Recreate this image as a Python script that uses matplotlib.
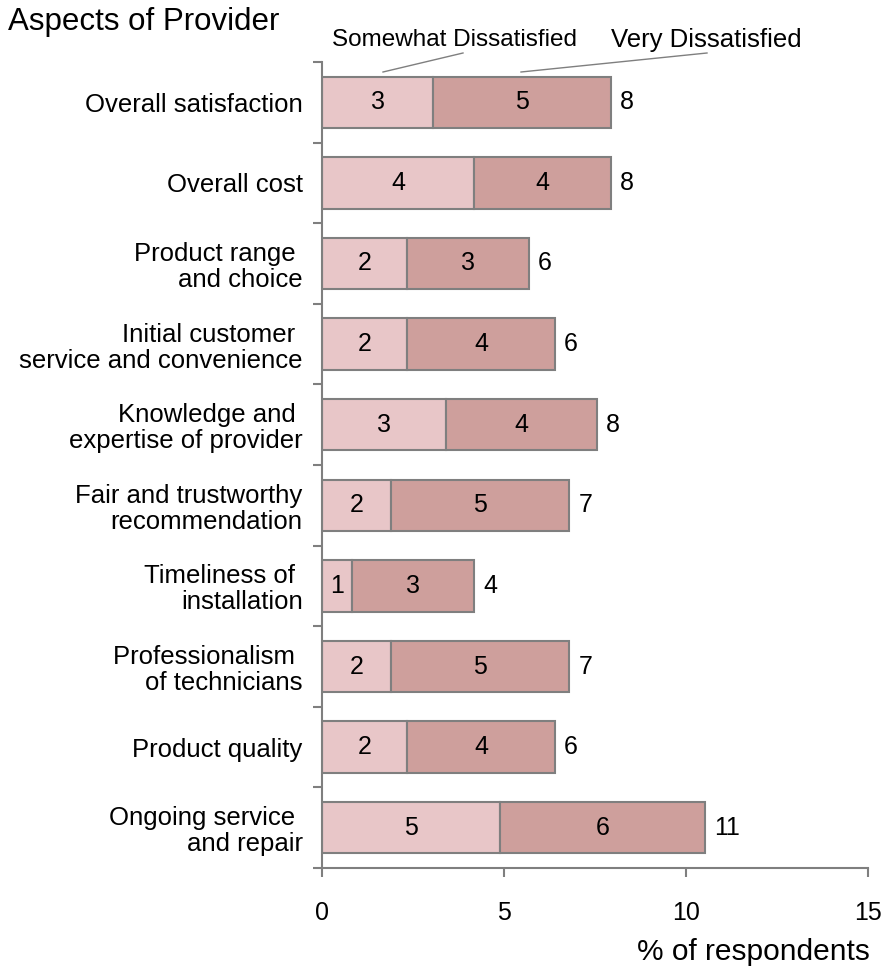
import numpy as np
import matplotlib.pyplot as plt

plt.rcParams['font.family'] = ['Liberation Sans', 'DejaVu Sans']

# categories top to bottom
aspects = ["Overall satisfaction", "Overall cost", "Product range \nand choice",
           "Initial customer \nservice and convenience", "Knowledge and \nexpertise of provider",
           "Fair and trustworthy\nrecommendation", "Timeliness of \ninstallation",
           "Professionalism \nof technicians", "Product quality", "Ongoing service \nand repair"]
somewhat = [3.05, 4.18, 2.34, 2.34, 3.41, 1.90, 0.82, 1.90, 2.34, 4.89]
very = [4.89, 3.76, 3.35, 4.06, 4.14, 4.89, 3.35, 4.89, 4.06, 5.63]

col_light = '#e8c6c8'
col_dark = '#ce9f9c'
edge = '#7f7f7f'

fig = plt.figure(figsize=(8.81, 9.77), dpi=100)
ax = fig.add_axes([322/881, 1-868/977, 546/881, 806/977])

y = np.arange(len(aspects))
s = np.array(somewhat)
v = np.array(very)
tot = s + v
h = 0.64
ax.barh(y, s, height=h, color=col_light, edgecolor=edge, linewidth=1.5)
ax.barh(y, v, left=s, height=h, color=col_dark, edgecolor=edge, linewidth=1.5)

fs = 18
for i in range(len(y)):
    ax.text(s[i]/2, y[i], '%.0f' % s[i], ha='center', va='center', fontsize=fs)
    ax.text(s[i] + v[i]/2, y[i], '%.0f' % v[i], ha='center', va='center', fontsize=fs)
    ax.text(tot[i] + 0.25, y[i], '%.0f' % tot[i], ha='left', va='center', fontsize=fs)

ax.set_xlim(0, 15)
ax.set_ylim(len(aspects) - 0.5, -0.5)
ax.set_xticks([0, 5, 10, 15])
ax.set_yticks(y)
ax.set_yticklabels(aspects, fontsize=18.5, linespacing=1.1)
ax.set_yticks(np.arange(-0.5, len(aspects)), minor=True)
ax.tick_params(axis='y', which='major', length=0, pad=14)
ax.tick_params(axis='y', which='minor', length=6.5, width=1.5, color=edge)
ax.tick_params(axis='x', length=6.5, width=1.5, color=edge, labelsize=fs, pad=17)
for t in ax.get_yticklabels():
    t.set_multialignment('right')

for sp in ['top', 'right']:
    ax.spines[sp].set_visible(False)
for sp in ['left', 'bottom']:
    ax.spines[sp].set_color(edge)
    ax.spines[sp].set_linewidth(1.5)

fig.text(8/881, 1-22/977, "Aspects of Provider", fontsize=22.5, ha='left', va='center')
fig.text(870/881, 1-952/977, "% of respondents", fontsize=21.5, ha='right', va='center')

# legend labels with leader lines
fig.text(455/881, 1-40/977, "Somewhat Dissatisfied", fontsize=17.5, ha='center', va='center')
fig.text(706/881, 1-40/977, "Very Dissatisfied", fontsize=18.5, ha='center', va='center')
fig.add_artist(plt.Line2D([383/881, 463/881], [1-72/977, 1-53/977], color=edge, lw=1))
fig.add_artist(plt.Line2D([521/881, 707/881], [1-72/977, 1-53/977], color=edge, lw=1))

fig.savefig('out.png', dpi=100)
